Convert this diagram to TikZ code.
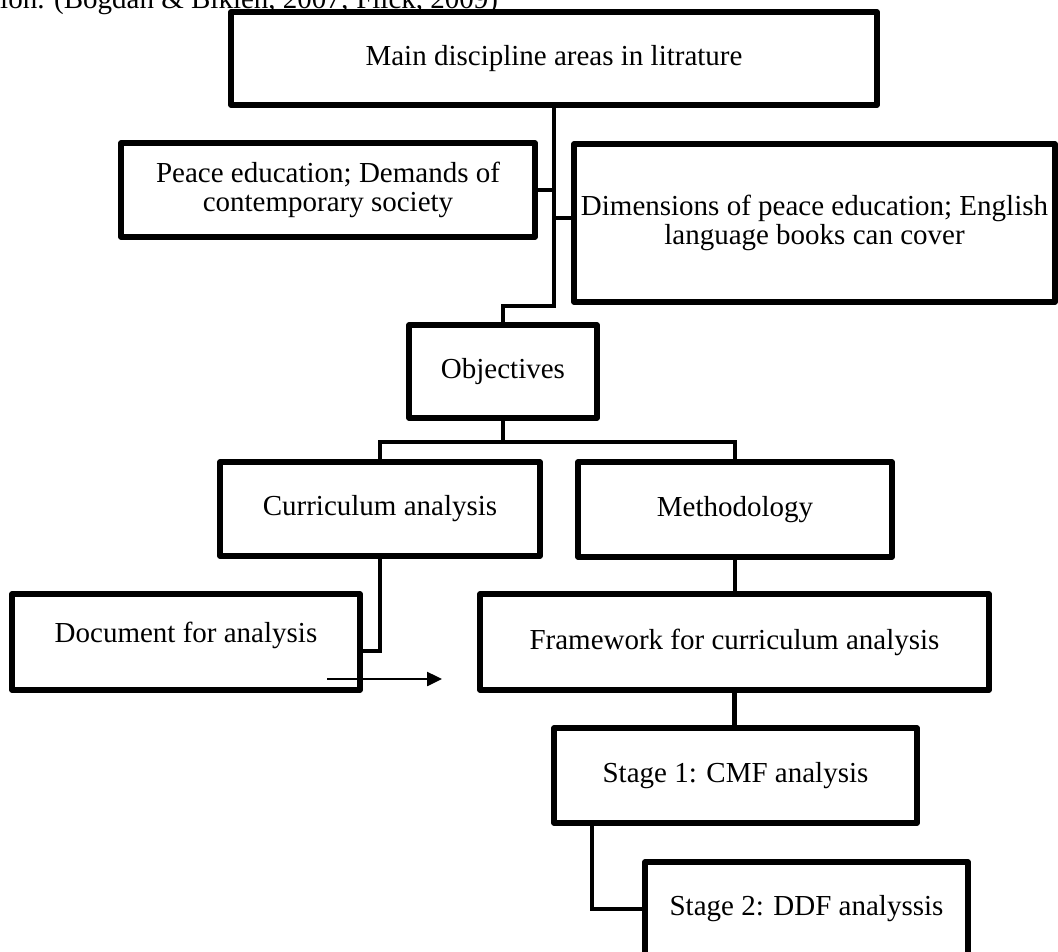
\documentclass[tikz,border=0pt]{standalone}
\usepackage{fontspec}
\setmainfont{Liberation Serif}
\usetikzlibrary{arrows.meta}
\begin{document}
\begin{tikzpicture}[x=1pt,y=-1pt,
  box/.style={draw, line width=5.5pt, line join=round, rectangle, inner sep=0pt, align=center,
    font=\fontsize{29}{29.5}\selectfont},
  conn/.style={line width=4.5pt, line join=miter},
  txt/.style={inner sep=0pt, font=\fontsize{29}{29.5}\selectfont},
  arr/.style={line width=2.5pt, -{Triangle[length=15pt,width=14pt]}}
  ]
\useasboundingbox (0,0) rectangle (1058,951);
\clip (0,0) rectangle (1058,951);

\node[txt, anchor=base west] (cite) at (0,8) {ion. (Bogdan \& Biklen, 2007; Flick, 2009)};

\node[box, minimum width=646, minimum height=93] (top) at (554,58.5) {Main discipline areas in litrature};
\node[box, minimum width=414, minimum height=94] (peace) at (328,190) {Peace education; Demands of\\contemporary society};
\node[box, minimum width=481, minimum height=158] (dim) at (814.5,223) {Dimensions of peace education; English\\language books can cover};
\node[box, minimum width=188, minimum height=93] (obj) at (503,371.5) {Objectives};
\node[box, minimum width=320, minimum height=94] (curr) at (380,509) {Curriculum analysis};
\node[box, minimum width=314, minimum height=95] (meth) at (735,509.5) {Methodology};
\node[box, minimum width=348, minimum height=96] (doc) at (186,642) {\raisebox{20pt}{Document for analysis}};
\node[box, minimum width=509, minimum height=96] (frame) at (734.5,642) {Framework for curriculum analysis};
\node[box, minimum width=363, minimum height=95] (s1) at (735.5,775.5) {Stage 1: CMF analysis};
\node[box, minimum width=323, minimum height=94] (s2) at (806.5,909) {Stage 2: DDF analyssis};

% trunk
\coordinate (j1) at (554,306);
\draw[conn] (top.south) -- (j1) -| (obj.north);
\draw[conn] (peace.east) -- (peace.east -| top.south);
\coordinate (dj) at (554,218);
\coordinate (dj2) at (dim.west |- dj);
\draw[conn] (dj) -- (dj2);

% objectives split
\coordinate (j2) at (503,442);
\draw[conn] (obj.south) -- (j2);
\draw[conn] (curr.north) |- (j2) -| (meth.north);

% methodology to framework
\draw[conn] (meth.south) -- (meth.south |- frame.north);

% curriculum to document
\coordinate (dl) at (360,651);
\draw[conn] (curr.south) |- (dl);

% arrow
\coordinate (as) at (327,679);
\coordinate (ae) at (442,679);
\draw[arr] (as) -- (ae);

% framework to stage 1
\draw[conn] (frame.south) -- (frame.south |- s1.north);

% stage 1 to stage 2
\coordinate (s1c) at (592,0);
\draw[conn] (s1.south -| s1c) |- (s2.west);
\end{tikzpicture}
\end{document}
